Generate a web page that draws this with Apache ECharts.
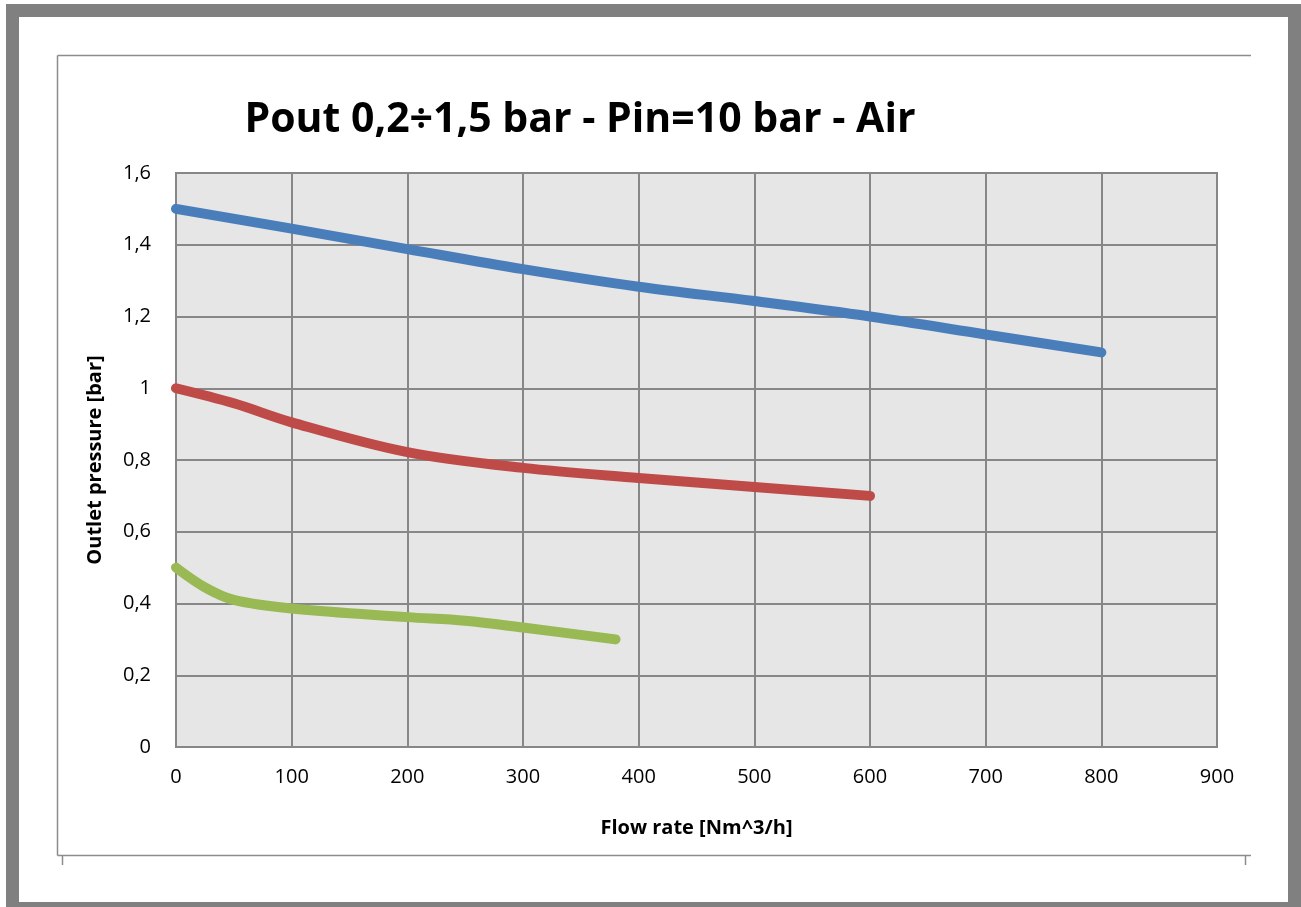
<!DOCTYPE html>
<html>
<head>
<meta charset="utf-8">
<script src="https://cdn.jsdelivr.net/npm/echarts@6/dist/echarts.min.js"></script>
<style>
html,body{margin:0;padding:0;background:#fff;}
#c{width:1301px;height:907px;}
</style>
</head>
<body>
<div id="c"></div>
<script>
const titleText = 'Pout 0,2÷1,5 bar - Pin=10 bar - Air';
const xAxisName = 'Flow rate [Nm^3/h]';
const yAxisName = 'Outlet pressure [bar]';
const seriesNames = ['Pout 1,5 bar', 'Pout 1 bar', 'Pout 0,5 bar'];
const blueFlow = [0, 100, 200, 300, 400, 500, 600, 700, 800];
const blueP    = [1.5, 1.445, 1.388, 1.332, 1.283, 1.243, 1.2, 1.15, 1.1];
const redFlow  = [0, 50, 100, 200, 300, 400, 500, 600];
const redP     = [1.0, 0.958, 0.905, 0.822, 0.778, 0.75, 0.725, 0.70];
const greenFlow = [0, 25, 50, 100, 200, 250, 300, 380];
const greenP    = [0.5, 0.445, 0.41, 0.386, 0.362, 0.352, 0.333, 0.30];

const colors = ['#4a7ebb', '#be4b48', '#98b954'];
const gridGray = '#878787';
const font = '"Open Sans", Lato, sans-serif';

function pairs(xs, ys){ return xs.map((x,i)=>[x, ys[i]]); }

const chart = echarts.init(document.getElementById('c'), null, {renderer:'canvas'});
const lineSeries = [pairs(blueFlow, blueP), pairs(redFlow, redP), pairs(greenFlow, greenP)].map((d,i)=>({
  name: seriesNames[i],
  type: 'line',
  data: d,
  smooth: 0.35,
  showSymbol: false,
  symbol: 'none',
  lineStyle: {color: colors[i], width: 10, cap: 'round', join: 'round'},
  itemStyle: {color: colors[i]},
  z: 5
}));

chart.setOption({
  animation: false,
  backgroundColor: '#ffffff',
  grid: {
    left: 176, top: 173, right: 84, bottom: 160,
    show: true, backgroundColor: '#e6e6e6', borderColor: gridGray, borderWidth: 2
  },
  xAxis: {
    type: 'value', min: 0, max: 900, interval: 100,
    name: xAxisName, nameLocation: 'middle', nameGap: 71,
    nameTextStyle: {fontFamily: font, fontWeight: 'bold', fontSize: 20, color: '#000'},
    axisLine: {show: true, lineStyle: {color: gridGray, width: 2}},
    axisTick: {show: false},
    axisLabel: {fontFamily: font, fontSize: 20, color: '#000', margin: 20},
    splitLine: {show: true, lineStyle: {color: gridGray, width: 2}}
  },
  yAxis: {
    type: 'value', min: 0, max: 1.6, interval: 0.2,
    name: yAxisName, nameLocation: 'middle', nameGap: 71, nameRotate: 90,
    nameTextStyle: {fontFamily: font, fontWeight: 'bold', fontSize: 20, color: '#000'},
    axisLine: {show: true, lineStyle: {color: gridGray, width: 2}},
    axisTick: {show: false},
    axisLabel: {fontFamily: font, fontSize: 20, color: '#000', margin: 25,
      formatter: v => String(+(+v).toFixed(1)).replace('.', ',')},
    splitLine: {show: true, lineStyle: {color: gridGray, width: 2}}
  },
  series: lineSeries,
  graphic: [
    {type:'rect', shape:{x:6, y:4, width:1295, height:13}, style:{fill:'#808080'}, silent:true},
    {type:'rect', shape:{x:6, y:4, width:13, height:903}, style:{fill:'#808080'}, silent:true},
    {type:'rect', shape:{x:1288, y:4, width:13, height:903}, style:{fill:'#808080'}, silent:true},
    {type:'rect', shape:{x:6, y:902, width:1295, height:5}, style:{fill:'#808080'}, silent:true},
    {type:'line', shape:{x1:57.5, y1:55.5, x2:57.5, y2:855.5}, style:{stroke:'#8c8c8c', lineWidth:1.5}, silent:true},
    {type:'line', shape:{x1:57.5, y1:55.5, x2:1251, y2:55.5}, style:{stroke:'#8c8c8c', lineWidth:1.5}, silent:true},
    {type:'line', shape:{x1:57.5, y1:855.5, x2:1251, y2:855.5}, style:{stroke:'#8c8c8c', lineWidth:1.5}, silent:true},
    {type:'line', shape:{x1:62.5, y1:855.5, x2:62.5, y2:865}, style:{stroke:'#8c8c8c', lineWidth:1.5}, silent:true},
    {type:'line', shape:{x1:1245.5, y1:855.5, x2:1245.5, y2:865}, style:{stroke:'#8c8c8c', lineWidth:1.5}, silent:true},
    {type:'text', x:580, y:120, style:{text: titleText, fontFamily: font, fontWeight:'bold', fontSize:41,
      fill:'#000', textAlign:'center', textVerticalAlign:'middle'}, silent:true}
  ]
});
</script>
</body>
</html>
